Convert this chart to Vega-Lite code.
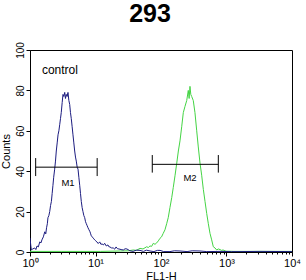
{
  "$schema": "https://vega.github.io/schema/vega-lite/v6.json",
  "width": 262,
  "height": 202,
  "autosize": "none",
  "padding": {"left": 30, "top": 50, "right": 14, "bottom": 28},
  "background": "white",
  "config": {
    "view": {"stroke": "black", "strokeWidth": 1},
    "font": "Liberation Sans",
    "axis": {
      "grid": false,
      "domainColor": "black",
      "tickColor": "black",
      "labelColor": "black",
      "titleColor": "black",
      "labelFont": "Liberation Sans",
      "titleFont": "Liberation Sans",
      "titleFontWeight": "normal"
    }
  },
  "title": {
    "text": "293",
    "fontSize": 25,
    "fontWeight": "bold",
    "font": "Liberation Sans",
    "color": "black",
    "anchor": "middle",
    "frame": "group",
    "dx": -11,
    "offset": 15
  },
  "datasets": {
    "hist": [
      {"sample": "293", "fl1h": 1, "count": 0.3},
      {"sample": "293", "fl1h": 3, "count": 0.3},
      {"sample": "293", "fl1h": 12, "count": 0.3},
      {"sample": "293", "fl1h": 24, "count": 0.5},
      {"sample": "293", "fl1h": 32, "count": 0.6},
      {"sample": "293", "fl1h": 37.8, "count": 1},
      {"sample": "293", "fl1h": 42, "count": 0.8},
      {"sample": "293", "fl1h": 47.8, "count": 1.8},
      {"sample": "293", "fl1h": 53.1, "count": 1.5},
      {"sample": "293", "fl1h": 60.5, "count": 2.6},
      {"sample": "293", "fl1h": 64, "count": 2.2},
      {"sample": "293", "fl1h": 67.9, "count": 3},
      {"sample": "293", "fl1h": 72, "count": 2.8},
      {"sample": "293", "fl1h": 76.3, "count": 4.3},
      {"sample": "293", "fl1h": 81, "count": 3.8},
      {"sample": "293", "fl1h": 85.9, "count": 4.5},
      {"sample": "293", "fl1h": 91, "count": 5.5},
      {"sample": "293", "fl1h": 96.6, "count": 6.8},
      {"sample": "293", "fl1h": 102, "count": 7.5},
      {"sample": "293", "fl1h": 108, "count": 9.2},
      {"sample": "293", "fl1h": 115, "count": 11},
      {"sample": "293", "fl1h": 122, "count": 14},
      {"sample": "293", "fl1h": 129, "count": 17},
      {"sample": "293", "fl1h": 137, "count": 22},
      {"sample": "293", "fl1h": 146, "count": 27},
      {"sample": "293", "fl1h": 154, "count": 32},
      {"sample": "293", "fl1h": 164, "count": 38},
      {"sample": "293", "fl1h": 174, "count": 44},
      {"sample": "293", "fl1h": 184, "count": 50},
      {"sample": "293", "fl1h": 195, "count": 55},
      {"sample": "293", "fl1h": 207, "count": 62},
      {"sample": "293", "fl1h": 219, "count": 69},
      {"sample": "293", "fl1h": 232, "count": 72},
      {"sample": "293", "fl1h": 247, "count": 75},
      {"sample": "293", "fl1h": 261, "count": 80},
      {"sample": "293", "fl1h": 269, "count": 76},
      {"sample": "293", "fl1h": 277, "count": 82},
      {"sample": "293", "fl1h": 285, "count": 78},
      {"sample": "293", "fl1h": 294, "count": 77},
      {"sample": "293", "fl1h": 311, "count": 75},
      {"sample": "293", "fl1h": 330, "count": 69},
      {"sample": "293", "fl1h": 351, "count": 60},
      {"sample": "293", "fl1h": 371, "count": 52},
      {"sample": "293", "fl1h": 394, "count": 44},
      {"sample": "293", "fl1h": 418, "count": 38},
      {"sample": "293", "fl1h": 443, "count": 31},
      {"sample": "293", "fl1h": 470, "count": 25},
      {"sample": "293", "fl1h": 499, "count": 19},
      {"sample": "293", "fl1h": 528, "count": 14},
      {"sample": "293", "fl1h": 560, "count": 9.2},
      {"sample": "293", "fl1h": 594, "count": 6},
      {"sample": "293", "fl1h": 629, "count": 2.6},
      {"sample": "293", "fl1h": 667, "count": 2},
      {"sample": "293", "fl1h": 708, "count": 1},
      {"sample": "293", "fl1h": 750, "count": 1.5},
      {"sample": "293", "fl1h": 796, "count": 1.2},
      {"sample": "293", "fl1h": 840, "count": 0.8},
      {"sample": "293", "fl1h": 885, "count": 1},
      {"sample": "293", "fl1h": 983, "count": 0.4},
      {"sample": "293", "fl1h": 1300, "count": 0.3},
      {"sample": "293", "fl1h": 1607, "count": 0.3},
      {"sample": "293", "fl1h": 10000, "count": 0.3},
      {"sample": "control", "fl1h": 1.0, "count": 7},
      {"sample": "control", "fl1h": 1.03, "count": 3},
      {"sample": "control", "fl1h": 1.05, "count": 1},
      {"sample": "control", "fl1h": 1.1, "count": 1.5},
      {"sample": "control", "fl1h": 1.18, "count": 2},
      {"sample": "control", "fl1h": 1.23, "count": 1.2},
      {"sample": "control", "fl1h": 1.28, "count": 3},
      {"sample": "control", "fl1h": 1.34, "count": 2.5},
      {"sample": "control", "fl1h": 1.41, "count": 5},
      {"sample": "control", "fl1h": 1.47, "count": 4.5},
      {"sample": "control", "fl1h": 1.52, "count": 6},
      {"sample": "control", "fl1h": 1.6, "count": 7.5},
      {"sample": "control", "fl1h": 1.68, "count": 10},
      {"sample": "control", "fl1h": 1.74, "count": 9},
      {"sample": "control", "fl1h": 1.79, "count": 12},
      {"sample": "control", "fl1h": 1.84, "count": 14},
      {"sample": "control", "fl1h": 1.88, "count": 17},
      {"sample": "control", "fl1h": 1.94, "count": 18},
      {"sample": "control", "fl1h": 2.0, "count": 20},
      {"sample": "control", "fl1h": 2.06, "count": 23},
      {"sample": "control", "fl1h": 2.12, "count": 25},
      {"sample": "control", "fl1h": 2.18, "count": 29},
      {"sample": "control", "fl1h": 2.24, "count": 33},
      {"sample": "control", "fl1h": 2.3, "count": 37},
      {"sample": "control", "fl1h": 2.38, "count": 41},
      {"sample": "control", "fl1h": 2.45, "count": 45},
      {"sample": "control", "fl1h": 2.52, "count": 50},
      {"sample": "control", "fl1h": 2.6, "count": 54},
      {"sample": "control", "fl1h": 2.68, "count": 58},
      {"sample": "control", "fl1h": 2.76, "count": 60},
      {"sample": "control", "fl1h": 2.84, "count": 63},
      {"sample": "control", "fl1h": 2.92, "count": 66},
      {"sample": "control", "fl1h": 3.0, "count": 69},
      {"sample": "control", "fl1h": 3.1, "count": 74},
      {"sample": "control", "fl1h": 3.19, "count": 78},
      {"sample": "control", "fl1h": 3.28, "count": 77},
      {"sample": "control", "fl1h": 3.39, "count": 79},
      {"sample": "control", "fl1h": 3.48, "count": 76},
      {"sample": "control", "fl1h": 3.58, "count": 78},
      {"sample": "control", "fl1h": 3.69, "count": 77},
      {"sample": "control", "fl1h": 3.8, "count": 79},
      {"sample": "control", "fl1h": 3.92, "count": 75},
      {"sample": "control", "fl1h": 4.04, "count": 73},
      {"sample": "control", "fl1h": 4.15, "count": 69},
      {"sample": "control", "fl1h": 4.27, "count": 66},
      {"sample": "control", "fl1h": 4.4, "count": 62},
      {"sample": "control", "fl1h": 4.53, "count": 58},
      {"sample": "control", "fl1h": 4.67, "count": 54},
      {"sample": "control", "fl1h": 4.81, "count": 50},
      {"sample": "control", "fl1h": 4.95, "count": 47},
      {"sample": "control", "fl1h": 5.09, "count": 45},
      {"sample": "control", "fl1h": 5.25, "count": 42},
      {"sample": "control", "fl1h": 5.41, "count": 41},
      {"sample": "control", "fl1h": 5.57, "count": 37},
      {"sample": "control", "fl1h": 5.74, "count": 33},
      {"sample": "control", "fl1h": 5.9, "count": 29},
      {"sample": "control", "fl1h": 6.07, "count": 25},
      {"sample": "control", "fl1h": 6.25, "count": 22},
      {"sample": "control", "fl1h": 6.44, "count": 20},
      {"sample": "control", "fl1h": 6.64, "count": 18},
      {"sample": "control", "fl1h": 6.84, "count": 17},
      {"sample": "control", "fl1h": 7.04, "count": 15},
      {"sample": "control", "fl1h": 7.24, "count": 14},
      {"sample": "control", "fl1h": 7.46, "count": 13},
      {"sample": "control", "fl1h": 7.68, "count": 12},
      {"sample": "control", "fl1h": 7.95, "count": 11},
      {"sample": "control", "fl1h": 8.24, "count": 10},
      {"sample": "control", "fl1h": 8.43, "count": 9},
      {"sample": "control", "fl1h": 8.63, "count": 8},
      {"sample": "control", "fl1h": 8.9, "count": 7.5},
      {"sample": "control", "fl1h": 9.16, "count": 7},
      {"sample": "control", "fl1h": 9.44, "count": 6.5},
      {"sample": "control", "fl1h": 9.72, "count": 6},
      {"sample": "control", "fl1h": 10.1, "count": 5.5},
      {"sample": "control", "fl1h": 10.5, "count": 5},
      {"sample": "control", "fl1h": 11.0, "count": 4.2},
      {"sample": "control", "fl1h": 11.6, "count": 5},
      {"sample": "control", "fl1h": 12.1, "count": 3.8},
      {"sample": "control", "fl1h": 12.6, "count": 4},
      {"sample": "control", "fl1h": 13.2, "count": 3.5},
      {"sample": "control", "fl1h": 13.8, "count": 4.3},
      {"sample": "control", "fl1h": 14.6, "count": 3},
      {"sample": "control", "fl1h": 15.5, "count": 3.5},
      {"sample": "control", "fl1h": 16.0, "count": 2.6},
      {"sample": "control", "fl1h": 16.6, "count": 2.5},
      {"sample": "control", "fl1h": 17.6, "count": 2},
      {"sample": "control", "fl1h": 18.7, "count": 2},
      {"sample": "control", "fl1h": 19.6, "count": 1.4},
      {"sample": "control", "fl1h": 20.6, "count": 2.5},
      {"sample": "control", "fl1h": 21.7, "count": 1.6},
      {"sample": "control", "fl1h": 22.8, "count": 1.5},
      {"sample": "control", "fl1h": 24.6, "count": 1.2},
      {"sample": "control", "fl1h": 26.6, "count": 1},
      {"sample": "control", "fl1h": 28.3, "count": 1.6},
      {"sample": "control", "fl1h": 30.2, "count": 1.5},
      {"sample": "control", "fl1h": 33.5, "count": 0.6},
      {"sample": "control", "fl1h": 37.4, "count": 0.3},
      {"sample": "control", "fl1h": 42, "count": 0.9},
      {"sample": "control", "fl1h": 47.8, "count": 0.8},
      {"sample": "control", "fl1h": 54, "count": 0.3},
      {"sample": "control", "fl1h": 60, "count": 0.9},
      {"sample": "control", "fl1h": 67.9, "count": 0.5},
      {"sample": "control", "fl1h": 78, "count": 0.2},
      {"sample": "control", "fl1h": 88, "count": 0.8},
      {"sample": "control", "fl1h": 96.6, "count": 0.8},
      {"sample": "control", "fl1h": 110, "count": 0.2},
      {"sample": "control", "fl1h": 137, "count": 0.2},
      {"sample": "control", "fl1h": 160, "count": 0.6},
      {"sample": "control", "fl1h": 195, "count": 0.5},
      {"sample": "control", "fl1h": 250, "count": 0.2},
      {"sample": "control", "fl1h": 300, "count": 0.6},
      {"sample": "control", "fl1h": 394, "count": 0.5},
      {"sample": "control", "fl1h": 500, "count": 0.2},
      {"sample": "control", "fl1h": 796, "count": 0.3},
      {"sample": "control", "fl1h": 1200, "count": 0.2},
      {"sample": "control", "fl1h": 1607, "count": 0.2},
      {"sample": "control", "fl1h": 3240, "count": 0.3},
      {"sample": "control", "fl1h": 10000, "count": 0.2}
    ],
    "gates": [
      {"gate": "M1", "lo": 1.22, "hi": 10.6, "level": 42, "bottom": 37.6, "top": 46.5, "labelx": 3.8, "labely": 34},
      {"gate": "M2", "lo": 73.6, "hi": 750, "level": 43.4, "bottom": 39.3, "top": 48, "labelx": 277, "labely": 36.8}
    ],
    "notes": [
      {"note": "control", "x": 1.52, "y": 88}
    ]
  },
  "layer": [
    {
      "data": {"name": "hist"},
      "transform": [{"filter": "datum.sample == '293'"}],
      "mark": {"type": "line", "strokeWidth": 1, "color": "#44d444", "clip": true},
      "encoding": {
        "x": {
          "field": "fl1h",
          "type": "quantitative",
          "scale": {"type": "log", "domain": [1, 10000]},
          "axis": {
            "title": "FL1-H",
            "titleFontSize": 11,
            "titlePadding": 2,
            "values": [1,2,3,4,5,6,7,8,9,10,20,30,40,50,60,70,80,90,100,200,300,400,500,600,700,800,900,1000,2000,3000,4000,5000,6000,7000,8000,9000,10000],
            "labelExpr": "datum.value == 1 ? '10⁰' : datum.value == 10 ? '10¹' : datum.value == 100 ? '10²' : datum.value == 1000 ? '10³' : datum.value == 10000 ? '10⁴' : ''",
            "labelFontSize": 11,
            "labelPadding": 1,
            "labelOverlap": false,
            "labelFlush": false,
            "tickSize": {"condition": {"test": "indexof([1,10,100,1000,10000], datum.value) >= 0", "value": 4}, "value": 2}
          }
        },
        "y": {
          "field": "count",
          "type": "quantitative",
          "scale": {"domain": [0, 100]},
          "axis": {
            "title": "Counts",
            "titleFontSize": 11,
            "titlePadding": 4,
            "values": [0,5,10,15,20,25,30,35,40,45,50,55,60,65,70,75,80,85,90,95,100],
            "labelExpr": "datum.value % 20 == 0 ? datum.label : ''",
            "labelAngle": -90,
            "labelAlign": "center",
            "labelBaseline": "bottom",
            "labelFontSize": 10,
            "labelPadding": 1,
            "labelOverlap": false,
            "labelFlush": false,
            "tickSize": 4
          }
        }
      }
    },
    {
      "data": {"name": "hist"},
      "transform": [{"filter": "datum.sample == 'control'"}],
      "mark": {"type": "line", "strokeWidth": 1, "color": "#1c1c80", "clip": true},
      "encoding": {
        "x": {"field": "fl1h", "type": "quantitative"},
        "y": {"field": "count", "type": "quantitative"}
      }
    },
    {
      "data": {"name": "gates"},
      "mark": {"type": "rule", "color": "black", "strokeWidth": 1},
      "encoding": {
        "x": {"field": "lo", "type": "quantitative"},
        "x2": {"field": "hi"},
        "y": {"field": "level", "type": "quantitative"}
      }
    },
    {
      "data": {"name": "gates"},
      "mark": {"type": "rule", "color": "black", "strokeWidth": 1},
      "encoding": {
        "x": {"field": "lo", "type": "quantitative"},
        "y": {"field": "bottom", "type": "quantitative"},
        "y2": {"field": "top"}
      }
    },
    {
      "data": {"name": "gates"},
      "mark": {"type": "rule", "color": "black", "strokeWidth": 1},
      "encoding": {
        "x": {"field": "hi", "type": "quantitative"},
        "y": {"field": "bottom", "type": "quantitative"},
        "y2": {"field": "top"}
      }
    },
    {
      "data": {"name": "gates"},
      "mark": {"type": "text", "fontSize": 9.5, "align": "center", "baseline": "middle", "color": "black", "font": "Liberation Sans"},
      "encoding": {
        "x": {"field": "labelx", "type": "quantitative"},
        "y": {"field": "labely", "type": "quantitative"},
        "text": {"field": "gate"}
      }
    },
    {
      "data": {"name": "notes"},
      "mark": {"type": "text", "fontSize": 12, "align": "left", "baseline": "alphabetic", "color": "black", "font": "Liberation Sans"},
      "encoding": {
        "x": {"field": "x", "type": "quantitative"},
        "y": {"field": "y", "type": "quantitative"},
        "text": {"field": "note"}
      }
    }
  ]
}
